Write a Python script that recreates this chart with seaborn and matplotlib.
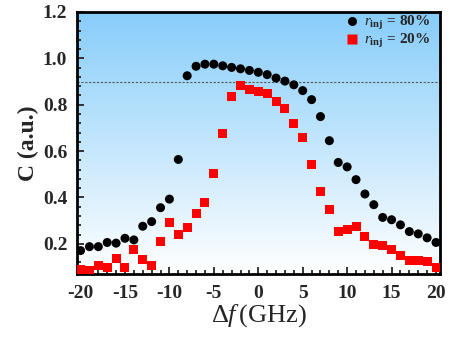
import numpy as np
import pandas as pd
import matplotlib
matplotlib.use("Agg")
import matplotlib.pyplot as plt
import seaborn as sns
from matplotlib.ticker import MultipleLocator

freq = list(range(-20, 21))
c80 = [0.171, 0.188, 0.188, 0.206, 0.203, 0.224, 0.217, 0.276, 0.296, 0.356,
       0.393, 0.564, 0.925, 0.966, 0.975, 0.975, 0.968, 0.961, 0.955, 0.948,
       0.940, 0.930, 0.915, 0.902, 0.886, 0.861, 0.822, 0.749, 0.645, 0.551,
       0.532, 0.477, 0.415, 0.369, 0.314, 0.304, 0.282, 0.253, 0.243, 0.226, 0.206]
c20 = [0.091, 0.085, 0.107, 0.098, 0.137, 0.098, 0.174, 0.134, 0.105, 0.210,
       0.290, 0.239, 0.271, 0.329, 0.378, 0.505, 0.676, 0.834, 0.882, 0.867,
       0.859, 0.849, 0.812, 0.783, 0.720, 0.660, 0.541, 0.425, 0.349, 0.253,
       0.262, 0.276, 0.233, 0.198, 0.193, 0.175, 0.148, 0.127, 0.129, 0.125, 0.099]
labels = [r"$r_{\mathbf{inj}}$ = 80%", r"$r_{\mathbf{inj}}$ = 20%"]
xtick_labels = ["-20", "-15", "-10", "-5", "0", "5", "10", "15", "20"]
ytick_labels = ["0.2", "0.4", "0.6", "0.8", "1.0", "1.2"]
threshold = 0.9

sns.set_style("ticks")
plt.rcParams['font.family'] = ['Liberation Serif', 'DejaVu Serif']
plt.rcParams['mathtext.fontset'] = 'custom'
plt.rcParams['mathtext.rm'] = 'Liberation Serif'
plt.rcParams['mathtext.bf'] = 'Liberation Serif:bold'
plt.rcParams['mathtext.it'] = 'Liberation Serif:italic'

df = pd.DataFrame({
    "f": freq + freq,
    "C": c80 + c20,
    "series": [labels[0]] * len(freq) + [labels[1]] * len(freq),
})

fig = plt.figure(figsize=(4.5, 3.39), dpi=100)
ax = fig.add_axes([77/450, 1 - 274/339, (440-77)/450, (274-12)/339])

# gradient background
grad = np.linspace(0, 1, 256).reshape(-1, 1)
top = np.array([135, 205, 250]) / 255.0
bot = np.array([255, 255, 255]) / 255.0
img = top[None, None, :] * (1 - grad[:, :, None]) + bot[None, None, :] * grad[:, :, None]
ax.imshow(img, extent=[0, 1, 0, 1], transform=ax.transAxes, aspect='auto', zorder=0)

sns.scatterplot(data=df, x="f", y="C", hue="series", style="series",
                palette=["black", "red"], markers=["o", "s"], s=42,
                edgecolor="none", ax=ax, zorder=3)

ax.axhline(threshold, color="#555555", linestyle=(0, (2, 1.5)), linewidth=0.8, zorder=2)

ax.set_xlim(-20.4, 20.45)
ax.set_ylim(0.07, 1.2)
ax.xaxis.set_minor_locator(MultipleLocator(1))
ax.yaxis.set_minor_locator(MultipleLocator(0.04))
ax.set_xticks([-20, -15, -10, -5, 0, 5, 10, 15, 20])
ax.set_xticklabels(xtick_labels, fontweight='bold', fontsize=14)
ax.set_yticks([0.2, 0.4, 0.6, 0.8, 1.0, 1.2])
ax.set_yticklabels(ytick_labels, fontweight='bold', fontsize=14)
ax.tick_params(which='both', direction='in', top=False, right=False, width=1.3)
ax.tick_params(which='major', length=5)
ax.tick_params(which='minor', length=3)
ax.tick_params(axis='y', which='major', pad=7)
ax.tick_params(axis='x', which='major', pad=8)

for sp in ax.spines.values():
    sp.set_linewidth(2)
    sp.set_color("black")

ax.set_xlabel(r"$\Delta \mathit{f}\,$(GHz)", fontsize=19, labelpad=0)
ax.set_ylabel("C (a.u.)", fontsize=17, fontweight='bold', labelpad=3)

leg = ax.legend(loc='upper right', frameon=False, fontsize=11, handletextpad=0.2,
                borderaxespad=0.0, labelspacing=0.02, handlelength=1.2,
                bbox_to_anchor=(0.99, 1.015))
for t in leg.get_texts():
    t.set_fontweight('bold')

fig.savefig("out.png", dpi=100)
